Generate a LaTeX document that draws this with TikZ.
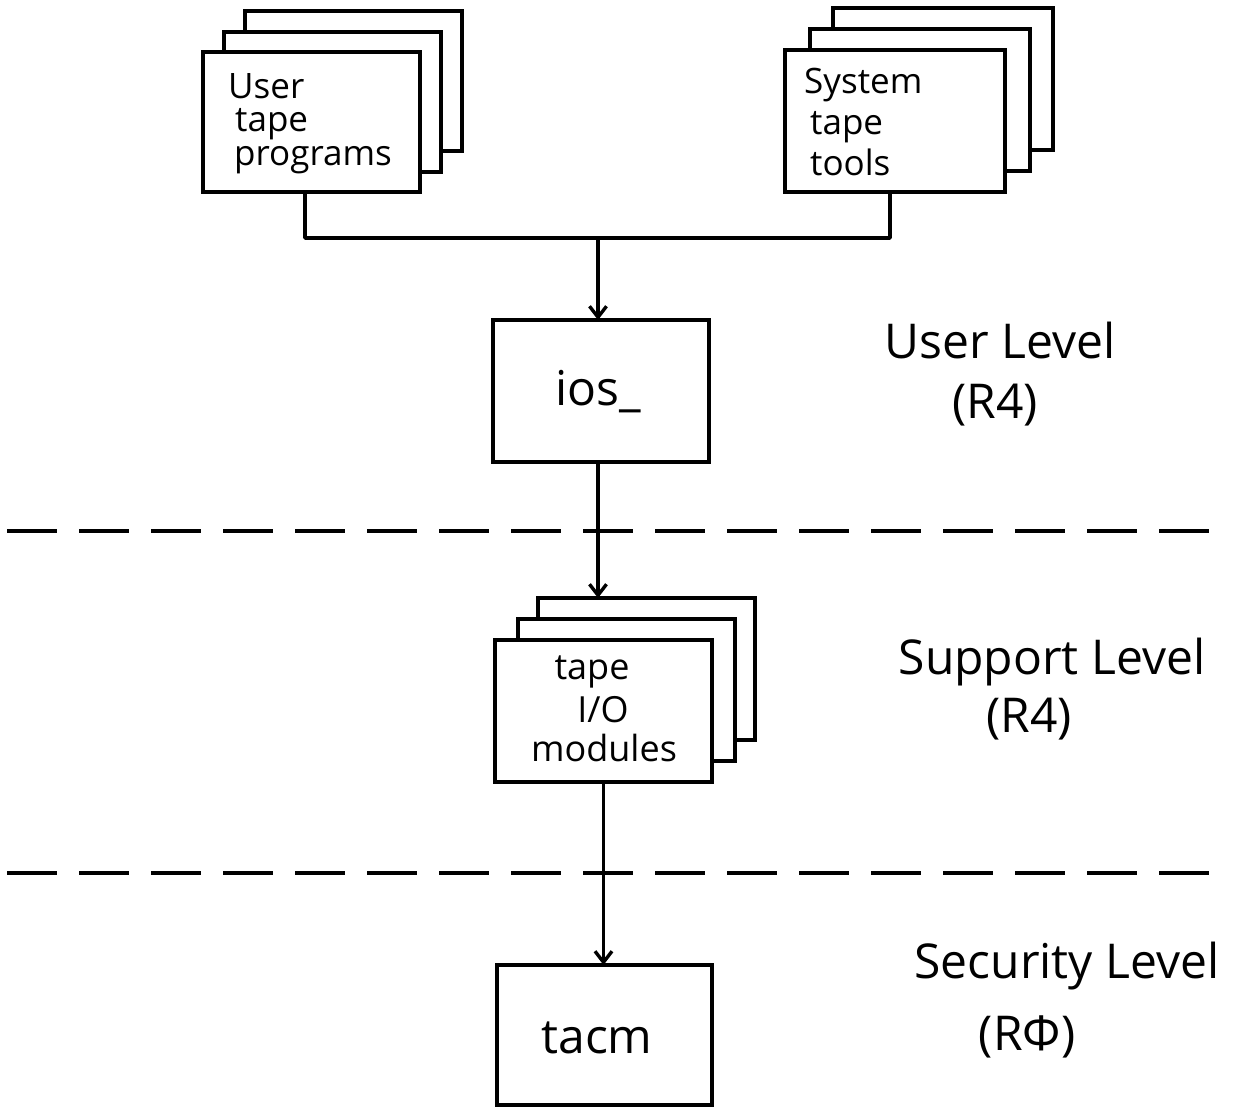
\documentclass[tikz,border=0pt]{standalone}
\usepackage{fontspec}
\setmainfont{Open Sans}
\usetikzlibrary{arrows.meta}
\begin{document}
\begin{tikzpicture}[x=1pt,y=-1pt,
  sheet/.style={draw, line width=3.4pt, fill=white, inner sep=0pt, outer sep=0pt,
    anchor=north west, minimum width=217pt, minimum height=141pt},
  widesheet/.style={sheet, minimum width=220pt, minimum height=142pt},
  conn/.style={line width=3.6pt, line join=round},
  arr/.style={conn, -{Straight Barb[length=11pt,width=17pt,line width=3.4pt]}},
  dashline/.style={line width=4pt, dash pattern=on 50pt off 22pt},
  boxtxt/.style={inner sep=0pt, font=\fontsize{35}{35}\selectfont},
  bigtxt/.style={inner sep=0pt, font=\fontsize{48}{48}\selectfont},
  lvltxt/.style={inner sep=0pt, anchor=base, font=\fontsize{48}{48}\selectfont}]
\useasboundingbox (0,0) rectangle (1247,1109);

% dashed level separators
\coordinate (d1a) at (7,531);
\coordinate (d1b) at (1209,531);
\coordinate (d2a) at (7,873);
\coordinate (d2b) at (1209,873);
\draw[dashline] (d1a) -- (d1b);
\draw[dashline] (d2a) -- (d2b);

% User tape programs stack
\node[sheet, minimum height=140pt] (utpb) at (245,11) {};
\node[sheet, minimum height=140pt] (utpm) at (224,32) {};
\node[sheet, minimum height=140pt] (utpf) at (203,52) {};
\node[boxtxt, anchor=base west] (utp1) at (228,98) {User};
\node[boxtxt, anchor=base west] (utp2) at (235,131) {tape};
\node[boxtxt, anchor=base west] (utp3) at (234,165) {programs};

% System tape tools stack
\node[widesheet] (sttb) at (833,8) {};
\node[widesheet] (sttm) at (810,29) {};
\node[widesheet] (sttf) at (785,50) {};
\node[boxtxt, anchor=base west] (stt1) at (804,93) {System};
\node[boxtxt, anchor=base west] (stt2) at (810,134) {tape};
\node[boxtxt, anchor=base west] (stt3) at (810,175) {tools};

% ios_
\node[sheet, minimum width=216pt, minimum height=142pt] (ios) at (493,320) {};
\node[bigtxt, anchor=base] (iost) at (598,405) {ios\_};

% tape I/O modules stack
\node[sheet, minimum height=142pt] (tiob) at (538,598) {};
\node[sheet, minimum height=142pt] (tiom) at (518,619) {};
\node[sheet, minimum height=142pt] (tiof) at (495,640) {};
\node[boxtxt, anchor=base, font=\fontsize{36}{36}\selectfont] (tio1) at (592,679) {tape};
\node[boxtxt, anchor=base, font=\fontsize{36}{36}\selectfont] (tio2) at (603,722) {I/O};
\node[boxtxt, anchor=base, font=\fontsize{36}{36}\selectfont] (tio3) at (604,761) {modules};

% tacm
\node[sheet, minimum width=215pt, minimum height=140pt] (tacm) at (497,965) {};
\node[bigtxt, anchor=base] (tacmt) at (597,1053) {tacm};

% connectors
\coordinate (jl) at (305,238);
\coordinate (jr) at (890,238);
\coordinate (jm) at (598,238);
\draw[conn] (utpf.south -| jl) -- (jl) -- (jr) -- (sttf.south -| jr);
\draw[arr] (jm) -- (ios.north -| jm);
\draw[arr] (ios.south -| jm) -- (tiob.north -| jm);
\draw[arr] (tiof.south) -- (tiof.south |- tacm.north);

% level labels
\node[lvltxt] (ul1) at (1000,358) {User Level};
\node[lvltxt] (ul2) at (995,418) {(R4)};
\node[lvltxt] (sl1) at (1052,674) {Support Level};
\node[lvltxt] (sl2) at (1029,732) {(R4)};
\node[lvltxt] (xl1) at (1067,978) {Security Level};
\node[lvltxt] (xl2) at (1027,1050) {(RΦ)};
\end{tikzpicture}
\end{document}
